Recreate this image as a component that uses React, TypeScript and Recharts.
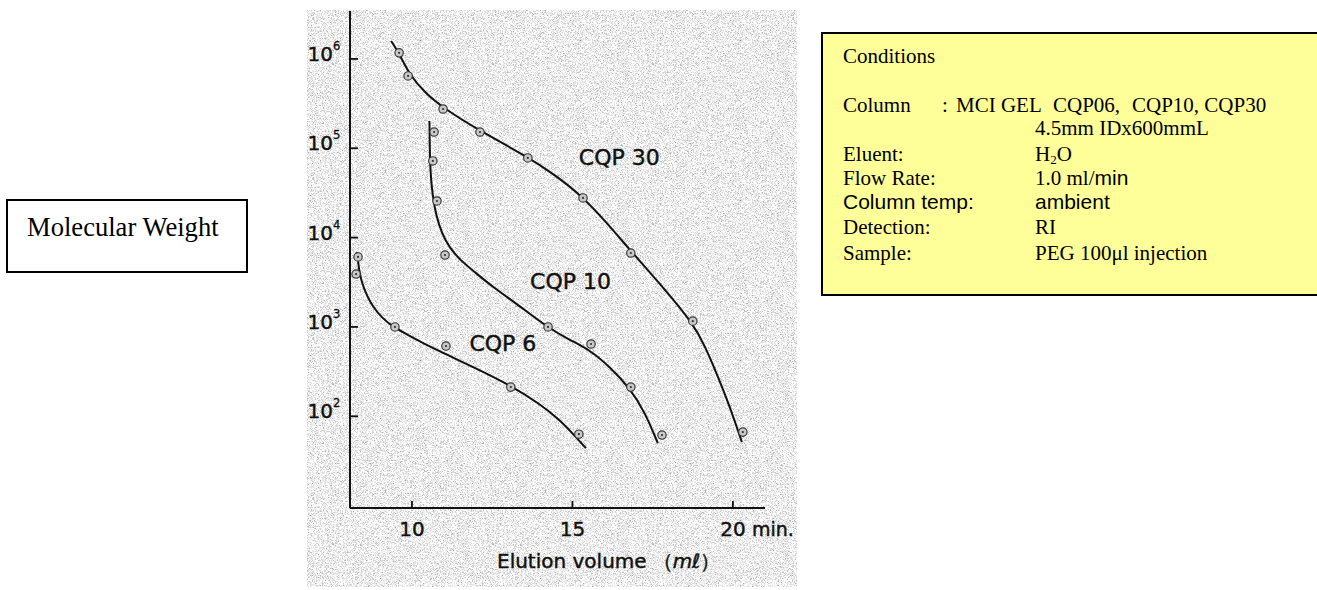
import React from 'react';
import { ComposedChart, Line, Scatter, XAxis, YAxis, ReferenceDot } from 'recharts';

// axis ticks
const xTicks = [10, 15, 20];
const yTicks = [100, 1000, 10000, 100000, 1000000];

// fitted calibration curves (elution volume ml, molecular weight)
const cqp6Curve = [
  { x: 8.29, y: 6900 }, { x: 8.35, y: 4340 }, { x: 8.44, y: 3100 }, { x: 8.6, y: 2220 },
  { x: 8.79, y: 1670 }, { x: 9.07, y: 1260 }, { x: 9.41, y: 1000 }, { x: 9.94, y: 790 },
  { x: 10.34, y: 660 }, { x: 11.18, y: 472 }, { x: 11.9, y: 356 }, { x: 13.05, y: 224 },
  { x: 13.99, y: 137 }, { x: 14.61, y: 91 }, { x: 15.08, y: 60 }, { x: 15.42, y: 44 },
];
const cqp10Curve = [
  { x: 10.545, y: 202000 }, { x: 10.55, y: 150000 }, { x: 10.555, y: 95700 }, { x: 10.576, y: 54300 },
  { x: 10.639, y: 30000 }, { x: 10.748, y: 17900 }, { x: 10.935, y: 11000 }, { x: 11.18, y: 7650 },
  { x: 11.5, y: 5610 }, { x: 12.03, y: 3910 }, { x: 12.52, y: 2800 }, { x: 13.36, y: 1710 },
  { x: 14.21, y: 998 }, { x: 14.92, y: 713 }, { x: 15.55, y: 551 }, { x: 16.17, y: 356 },
  { x: 16.79, y: 207 }, { x: 17.26, y: 111 }, { x: 17.66, y: 50 },
];
const cqp30Curve = [
  { x: 9.35, y: 1590000 }, { x: 9.63, y: 1110000 }, { x: 9.91, y: 679000 }, { x: 10.41, y: 416000 },
  { x: 10.97, y: 283000 }, { x: 12.12, y: 156000 }, { x: 13.61, y: 80000 }, { x: 14.46, y: 50200 },
  { x: 15.33, y: 28500 }, { x: 16.08, y: 14560 }, { x: 16.82, y: 7080 }, { x: 17.79, y: 2870 },
  { x: 18.75, y: 1106 }, { x: 19.13, y: 611 }, { x: 19.5, y: 297 }, { x: 19.91, y: 127 },
  { x: 20.28, y: 51.4 },
];

// measured PEG standards
const cqp6Points = [
  { x: 8.32, y: 6070 }, { x: 8.26, y: 3910 }, { x: 9.47, y: 1000 },
  { x: 11.06, y: 611 }, { x: 13.08, y: 212 }, { x: 15.2, y: 63 },
];
const cqp10Points = [
  { x: 10.69, y: 152000 }, { x: 10.65, y: 72100 }, { x: 10.78, y: 25700 }, { x: 11.03, y: 6380 },
  { x: 14.24, y: 1000 }, { x: 15.58, y: 644 }, { x: 16.82, y: 212 }, { x: 17.79, y: 61.6 },
];
const cqp30Points = [
  { x: 9.6, y: 1170000 }, { x: 9.88, y: 645000 }, { x: 10.97, y: 275000 }, { x: 12.12, y: 152000 },
  { x: 13.61, y: 77900 }, { x: 15.33, y: 27800 }, { x: 16.82, y: 6720 }, { x: 18.75, y: 1160 },
  { x: 20.31, y: 66.5 },
];

const seriesLabels = [
  { name: 'CQP 30', x: 15.2, y: 65000 },
  { name: 'CQP 10', x: 13.68, y: 2660 },
  { name: 'CQP 6', x: 11.79, y: 537 },
];

const SANS = '"DejaVu Sans", Verdana, sans-serif';
const SERIF = '"Liberation Serif", "Times New Roman", serif';
const ARIAL = '"Liberation Sans", Arial, sans-serif';
const INK = '#111';
// scanned text looks a bit heavier than the plain face
const inkText = { fontFamily: SANS, fill: INK, stroke: INK, strokeWidth: 0.45 };

const Marker = (props: any) => {
  const { cx, cy } = props;
  if (cx == null || cy == null) return null;
  return (
    <g>
      <circle cx={cx} cy={cy} r={4.2} fill="#c8c8c8" stroke="#3a3a3a" strokeWidth={1.2} />
      <circle cx={cx} cy={cy} r={1.1} fill="#333" />
    </g>
  );
};

const YTick = (props: any) => {
  const { x, y, payload } = props;
  const exp = Math.round(Math.log10(payload.value));
  return (
    <g>
      <line x1={x} x2={x + 8} y1={y} y2={y} stroke={INK} strokeWidth={1.8} />
      <text x={x - 17} y={y + 2} textAnchor="end" fontSize={20} {...inkText}>10</text>
      <text x={x - 17} y={y - 9} fontSize={11.5} {...inkText} strokeWidth={0.3}>{exp}</text>
    </g>
  );
};

const XTick = (props: any) => {
  const { x, y, payload } = props;
  return (
    <g>
      <line x1={x} x2={x} y1={y} y2={y - 7} stroke={INK} strokeWidth={1.8} />
      <text x={x} y={y + 28} textAnchor="middle" fontSize={20} {...inkText}>{payload.value}</text>
      {payload.value === 20 && (
        <text x={x + 19} y={y + 28} fontSize={19} {...inkText}>min.</text>
      )}
    </g>
  );
};

const XTitle = (props: any) => {
  const vb = props.viewBox || { x: 350, y: 508 };
  return (
    <text x={vb.x + 147} y={vb.y + 59.5} fontSize={20} {...inkText}>
      Elution volume
      <tspan dx={6}>（</tspan>
      <tspan fontStyle="italic">mℓ</tspan>
      <tspan>）</tspan>
    </text>
  );
};

export default function App() {
  return (
    <div style={{ position: 'absolute', left: 0, top: 0, width: 1317, height: 590, overflow: 'hidden', background: '#fff' }}>
      <svg width={1317} height={590} style={{ position: 'absolute', left: 0, top: 0 }}>
        <defs>
          <filter id="grain" x="0" y="0" width="1" height="1" colorInterpolationFilters="sRGB">
            <feTurbulence type="fractalNoise" baseFrequency="1.6" numOctaves={2} seed={5} />
            <feColorMatrix
              type="matrix"
              values="0.33 0.33 0.33 0 0  0.33 0.33 0.33 0 0  0.33 0.33 0.33 0 0  0 0 0 0 1"
            />
            <feComponentTransfer>
              <feFuncR type="linear" slope={1.5} intercept={0.2} />
              <feFuncG type="linear" slope={1.5} intercept={0.2} />
              <feFuncB type="linear" slope={1.5} intercept={0.2} />
            </feComponentTransfer>
          </filter>
        </defs>
        <rect x={307} y={10} width={490} height={577} fill="#ddd" filter="url(#grain)" />

        {/* y axis caption box */}
        <rect x={7} y={200} width={240} height={72} fill="#fff" stroke="#000" strokeWidth={2} />
        <text x={27} y={236} fontFamily={SERIF} fontSize={26.6} fill="#000">Molecular Weight</text>

        {/* conditions box */}
        <rect x={822} y={33} width={520} height={262} fill="#ffff99" stroke="#000" strokeWidth={2} />
        <g fontFamily={SERIF} fontSize={21} fill="#000">
          <text x={843} y={63}>Conditions</text>
          <text x={843} y={112}>Column</text>
          <text x={942} y={112}>:</text>
          <text x={956} y={112}>MCI GEL</text>
          <text x={1053} y={112}>CQP06,</text>
          <text x={1132} y={112}>CQP10, CQP30</text>
          <text x={1035} y={135}>4.5mm IDx600mmL</text>
          <text x={843} y={161}>Eluent:</text>
          <text x={1035} y={161}>H<tspan fontSize={13} dy={3}>2</tspan><tspan dy={-3}>O</tspan></text>
          <text x={843} y={185}>Flow Rate:</text>
          <text x={1035} y={185}>1.0 ml/<tspan fontFamily={ARIAL}>min</tspan></text>
          <text x={843} y={209} fontFamily={ARIAL}>Column temp:</text>
          <text x={1035} y={209} fontFamily={ARIAL}>ambient</text>
          <text x={843} y={234}>Detection:</text>
          <text x={1035} y={234}>RI</text>
          <text x={843} y={260}>Sample:</text>
          <text x={1035} y={260}>PEG 100μl injection</text>
        </g>
      </svg>

      <div style={{ position: 'absolute', left: 0, top: 0 }}>
        <ComposedChart width={800} height={590} margin={{ top: 11, right: 35, bottom: 22, left: 300 }}>
          <XAxis
            dataKey="x"
            type="number"
            domain={[8.07, 21]}
            allowDataOverflow
            ticks={xTicks}
            tick={<XTick />}
            tickLine={false}
            tickSize={0}
            tickMargin={0}
            height={60}
            axisLine={{ stroke: INK, strokeWidth: 2 }}
            label={<XTitle />}
          />
          <YAxis
            dataKey="y"
            type="number"
            scale="log"
            domain={[9.4, 3440000]}
            allowDataOverflow
            ticks={yTicks}
            tick={<YTick />}
            tickLine={false}
            tickSize={0}
            tickMargin={0}
            width={50}
            axisLine={{ stroke: INK, strokeWidth: 2 }}
          />
          <Line data={cqp6Curve} dataKey="y" type="basis" dot={false} stroke={INK} strokeWidth={2} isAnimationActive={false} />
          <Line data={cqp10Curve} dataKey="y" type="basis" dot={false} stroke={INK} strokeWidth={2} isAnimationActive={false} />
          <Line data={cqp30Curve} dataKey="y" type="basis" dot={false} stroke={INK} strokeWidth={2} isAnimationActive={false} />
          <Scatter data={cqp6Points} dataKey="y" shape={<Marker />} isAnimationActive={false} />
          <Scatter data={cqp10Points} dataKey="y" shape={<Marker />} isAnimationActive={false} />
          <Scatter data={cqp30Points} dataKey="y" shape={<Marker />} isAnimationActive={false} />
          {seriesLabels.map((l) => (
            <ReferenceDot
              key={l.name}
              x={l.x}
              y={l.y}
              r={0}
              ifOverflow="visible"
              shape={(p: any) => (
                <text x={p.cx} y={p.cy} fontSize={22} {...inkText}>{l.name}</text>
              )}
            />
          ))}
        </ComposedChart>
      </div>
    </div>
  );
}
